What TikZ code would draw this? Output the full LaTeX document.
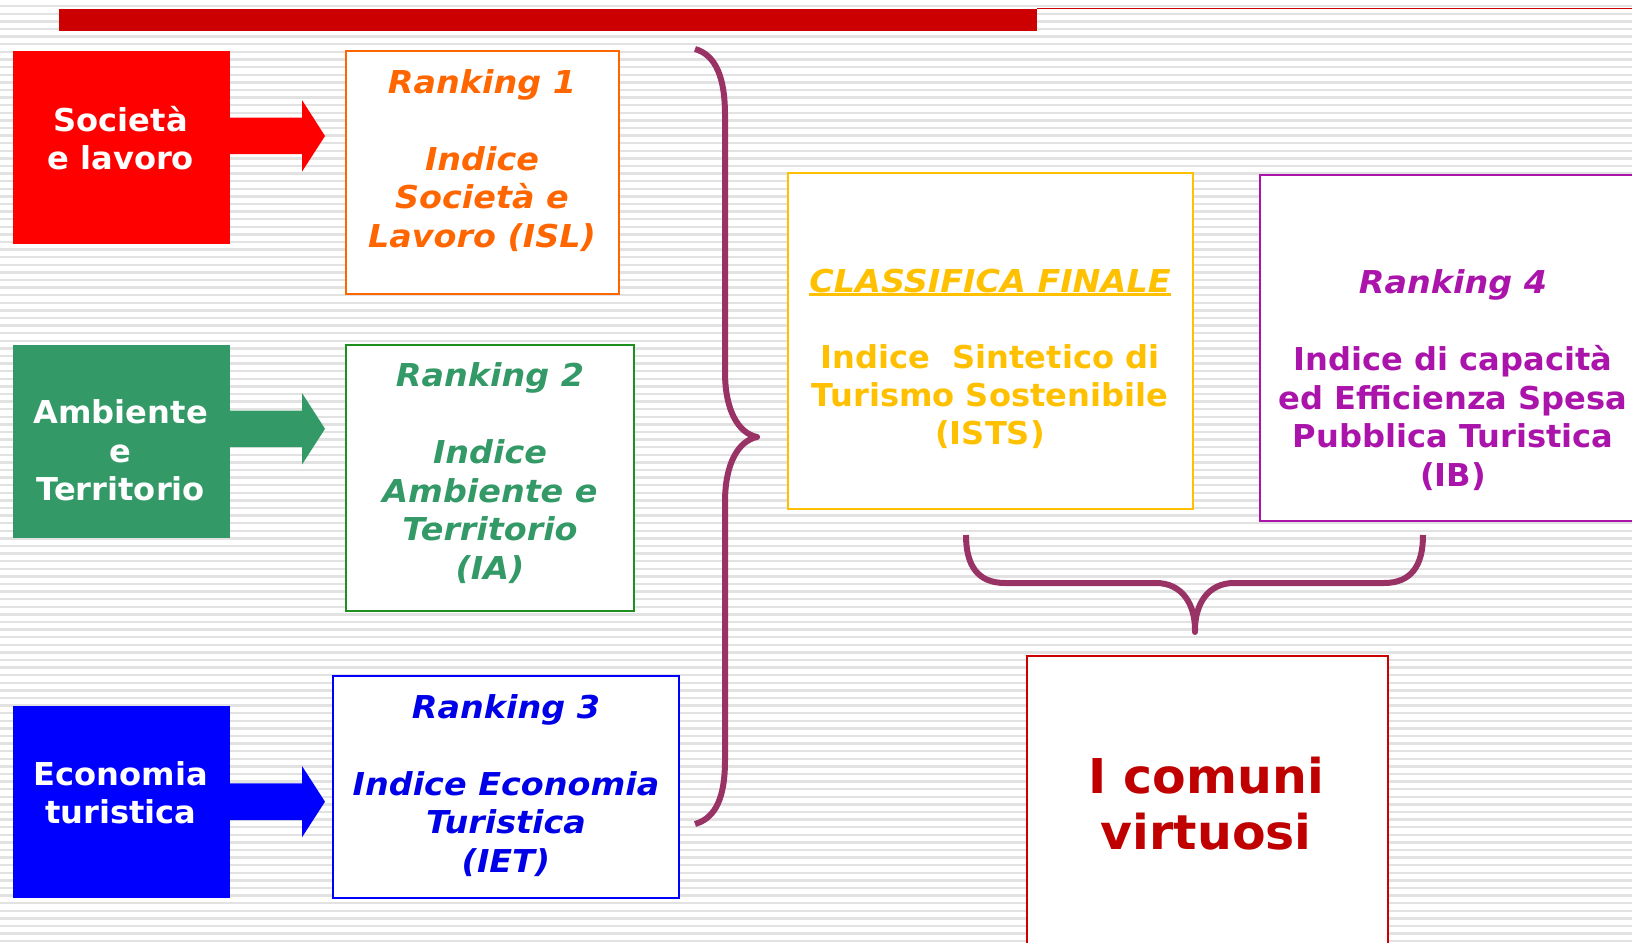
\documentclass[tikz,border=0pt]{standalone}
\usepackage{fontspec}
\setmainfont{DejaVu Sans}[BoldFeatures={FakeStretch=1.02}, BoldItalicFeatures={FakeStretch=1.06}]
\definecolor{barred}{HTML}{CC0000}
\definecolor{redf}{HTML}{FF0000}
\definecolor{greenf}{HTML}{339966}
\definecolor{greenb}{HTML}{1F8F1F}
\definecolor{bluef}{HTML}{0000FF}
\definecolor{bluet}{HTML}{0000E8}
\definecolor{orangec}{HTML}{FF6600}
\definecolor{yellowc}{HTML}{FFC000}
\definecolor{purplec}{HTML}{AA14AA}
\definecolor{bracec}{HTML}{993366}
\definecolor{darkred}{HTML}{C00000}
\definecolor{bgline}{HTML}{E2E2E2}
\newcommand\ulx[1]{\setbox0\hbox{#1}\rlap{\rule[-4pt]{\wd0}{2.7pt}}\box0}
\begin{document}
\begin{tikzpicture}[x=1pt,y=-1pt,
  fbox/.style={rectangle, inner sep=0pt, minimum width=217.5pt},
  obox/.style={rectangle, inner sep=0pt, fill=white, line width=2pt},
  txt/.style={align=center, inner sep=0pt, font=\bfseries\fontsize{31.5}{38.5}\selectfont},
  itxt/.style={align=center, inner sep=0pt, font=\bfseries\itshape\fontsize{31.5}{38.5}\selectfont},
  bracepath/.style={draw=bracec, line width=6pt, line join=round}]
\useasboundingbox (0,0) rectangle (1632,942);
\clip (0,0) rectangle (1632,942);
\fill[white] (0,0) rectangle (1632,942);
\foreach \i in {0,...,124} \fill[bgline] (0,{5.1+\i*7.6}) rectangle (1632,{7.5+\i*7.6});
% top bar
\fill[barred] (59,9) rectangle (1037,31.5);
\draw[barred, line width=1.5pt] (1037,8.5) -- (1632,8.5);
% filled boxes
\node[fbox, fill=redf, minimum height=192.5pt] (soc) at (121.25,147.25) {};
\node[fbox, fill=greenf, minimum height=193.5pt] (amb) at (121.25,441.25) {};
\node[fbox, fill=bluef, minimum height=192.5pt] (eco) at (121.25,802) {};
% block arrows
\fill[redf] (229,117.7) -- (302,117.7) -- (302,100) -- (325,136) -- (302,171.7) -- (302,154) -- (229,154) -- cycle;
\fill[greenf] (229,410.5) -- (302,410.5) -- (302,393) -- (325,428.8) -- (302,464.6) -- (302,447) -- (229,447) -- cycle;
\fill[bluef] (229,783.3) -- (302,783.3) -- (302,766) -- (325,801.7) -- (302,837.3) -- (302,820) -- (229,820) -- cycle;
% outline boxes
\node[obox, draw=orangec, minimum width=273.8pt, minimum height=242.5pt] (r1) at (482.4,172.3) {};
\node[obox, draw=greenb, minimum width=288.3pt, minimum height=266.5pt] (r2) at (489.7,477.8) {};
\node[obox, draw=bluef, minimum width=345.6pt, minimum height=222pt] (r3) at (505.8,786.5) {};
\node[obox, draw=yellowc, minimum width=405pt, minimum height=336.2pt] (fin) at (990.5,340.9) {};
\node[obox, draw=purplec, minimum width=386pt, minimum height=346pt] (r4) at (1452.5,347.5) {};
\node[obox, draw=barred, minimum width=361pt, minimum height=304pt] (vir) at (1207,808) {};
% texts in filled boxes
\node[txt, text=white] (tsoc) at (120.7,138) {Società\\e lavoro};
\node[txt, text=white] (tamb) at (120.7,450.5) {Ambiente\\e\\Territorio};
\node[txt, text=white] (teco) at (120.7,792.5) {Economia\\turistica};
% texts in outline boxes
\node[itxt, text=orangec] (tr1) at (482,160.5) {Ranking 1\\[38.5pt]Indice\\Società e\\Lavoro (ISL)};
\node[itxt, text=greenf] (tr2) at (490,473) {Ranking 2\\[38.5pt]Indice\\Ambiente e\\Territorio\\(IA)};
\node[itxt, text=bluet] (tr3) at (506,785.5) {Ranking 3\\[38.5pt]Indice Economia\\Turistica\\(IET)};
\node[txt, text=yellowc, font=\bfseries\fontsize{31.5}{38}\selectfont] (tfin) at (990,358.5) {\ulx{\itshape CLASSIFICA FINALE}\\[38pt]Indice\ \ Sintetico di\\Turismo Sostenibile\\(ISTS)};
\node[txt, text=purplec] (tr4) at (1453,380) {{\itshape Ranking 4}\\[38.5pt]Indice di capacità\\ed Efficienza Spesa\\Pubblica Turistica\\(IB)};
\node[txt, text=darkred, font=\bfseries\fontsize{48}{56}\selectfont] (tvir) at (1206.3,804) {I comuni\\virtuosi};
% left brace
\draw[bracepath] (695,49) .. controls (716,55) and (725,78) .. (725,115)
  -- (725,372) .. controls (725,410) and (738,433) .. (757,437)
  .. controls (738,441) and (725,464) .. (725,502)
  -- (725,760) .. controls (725,797) and (716,818) .. (695,824);
% bottom brace
\draw[bracepath] (966,535) .. controls (966,566) and (978,583) .. (1005,583)
  -- (1156,583) .. controls (1182,583) and (1195,604) .. (1195,630);
\draw[bracepath, line cap=round] (1195,630) -- (1195,632);
\draw[bracepath] (1195,630) .. controls (1195,604) and (1208,583) .. (1234,583)
  -- (1384,583) .. controls (1411,583) and (1423,566) .. (1423,535);
\end{tikzpicture}
\end{document}
